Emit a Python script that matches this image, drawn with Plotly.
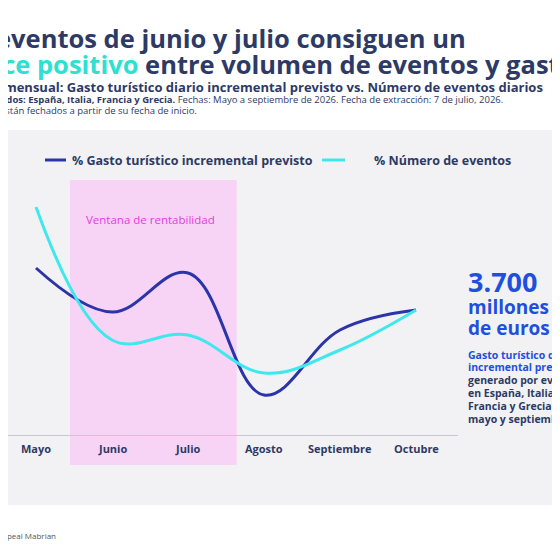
import plotly.graph_objects as go

months = ["Mayo", "Junio", "Julio", "Agosto", "Septiembre", "Octubre"]
gasto = [167, 123, 162, 40, 105, 125]
eventos = [228, 95, 100, 62, 85, 125]

DARK = "#2b35a8"
CYAN = "#3ee8ec"
NAVY = "#2d3a66"
BLUE = "#1f4fe0"
xs = list(range(len(months)))

OFF = 8  # page offset
L, R, T, B = 0, 110, 142, 133
PW, PH = 560 - L - R, 560 - T - B
def px(x): return (x - OFF - L) / PW
def py(y): return (560 - B - (y - OFF)) / PH
x0 = -(36 - OFF) / 76
x1 = x0 + PW / 76

fig = go.Figure()
fig.add_trace(go.Scatter(x=xs, y=gasto, mode="lines", line=dict(color=DARK, width=3, shape="spline", smoothing=1.1)))
fig.add_trace(go.Scatter(x=xs, y=eventos, mode="lines", line=dict(color=CYAN, width=3, shape="spline", smoothing=1.1)))

shapes = [
    dict(type="rect", xref="paper", yref="paper", x0=px(-5), x1=px(575), y0=py(505), y1=py(130),
         fillcolor="#f2f2f4", line_width=0, layer="below"),
    dict(type="rect", xref="x", yref="paper", x0=0.447, x1=2.64, y0=py(465), y1=py(180),
         fillcolor="#f7d4f6", line_width=0, layer="below"),
    dict(type="line", xref="paper", yref="paper", x0=px(45), x1=px(66), y0=py(160), y1=py(160), line=dict(color=DARK, width=3)),
    dict(type="line", xref="paper", yref="paper", x0=px(322), x1=px(345), y0=py(160), y1=py(160), line=dict(color=CYAN, width=3)),
]

F = "Open Sans"
ann = []
def pix(x, y, text, size, color, bold=True, family=F, anchor="left"):
    ann.append(dict(x=px(x), y=py(y), xref="paper", yref="paper", text=("<b>%s</b>" % text) if bold else text,
                    showarrow=False, xanchor=anchor, yanchor="middle", font=dict(size=size, color=color, family=family)))

pix(84, 219, "Ventana de rentabilidad", 11.5, "#e03ee0", bold=False)
pix(70, 160, "% Gasto turístico incremental previsto", 12.5, NAVY)
pix(372, 160, "% Número de eventos", 12.5, NAVY)
for i, m in enumerate(months):
    ann.append(dict(x=i, y=py(448), xref="x", yref="paper", text="<b>%s</b>" % m, showarrow=False,
                    yanchor="middle", font=dict(color=NAVY, size=11, family=F)))

pix(-6, 38, "eventos de junio y julio consiguen un", 25.5, NAVY)
ann.append(dict(x=px(-32), y=py(64), xref="paper", yref="paper", showarrow=False, xanchor="left", yanchor="middle",
                text="<b><span style='color:#2ee0cf'>ance positivo</span> entre volumen de eventos y gasto</b>",
                font=dict(size=25.5, color=NAVY, family=F)))
pix(-10, 87, "n mensual: Gasto turístico diario incremental previsto vs. Número de eventos diarios", 13, NAVY)
pix(-6, 100, "<b>zados: España, Italia, Francia y Grecia.</b> Fechas: Mayo a septiembre de 2026. Fecha de extracción: 7 de julio, 2026.", 9.5, NAVY, bold=False)
pix(-2, 110, "están fechados a partir de su fecha de inicio.", 9.5, NAVY, bold=False)

pix(466, 281, "3.700", 27, BLUE)
pix(466, 307, "millones", 19, BLUE)
pix(466, 328, "de euros", 19, BLUE)
pix(466, 355, "Gasto turístico diario", 10.5, BLUE)
pix(466, 367, "incremental previsto", 10.5, BLUE)
pix(466, 380, "generado por eventos", 10.5, NAVY)
pix(466, 393, "en España, Italia,", 10.5, NAVY)
pix(466, 406, "Francia y Grecia entre", 10.5, NAVY)
pix(466, 419, "mayo y septiembre", 10.5, NAVY)
pix(0, 535, "ppeal Mabrian", 8, "#555", bold=False)

fig.update_layout(
    width=560, height=560, margin=dict(l=L, r=R, t=T, b=B),
    paper_bgcolor="white", plot_bgcolor="rgba(0,0,0,0)", showlegend=False,
    shapes=shapes, annotations=ann,
    xaxis=dict(range=[x0, x1], showgrid=False, zeroline=False, showticklabels=False,
               showline=True, linecolor="#c8c8d4", linewidth=1),
    yaxis=dict(range=[0, PH], visible=False),
)
fig.write_html("out.html")
